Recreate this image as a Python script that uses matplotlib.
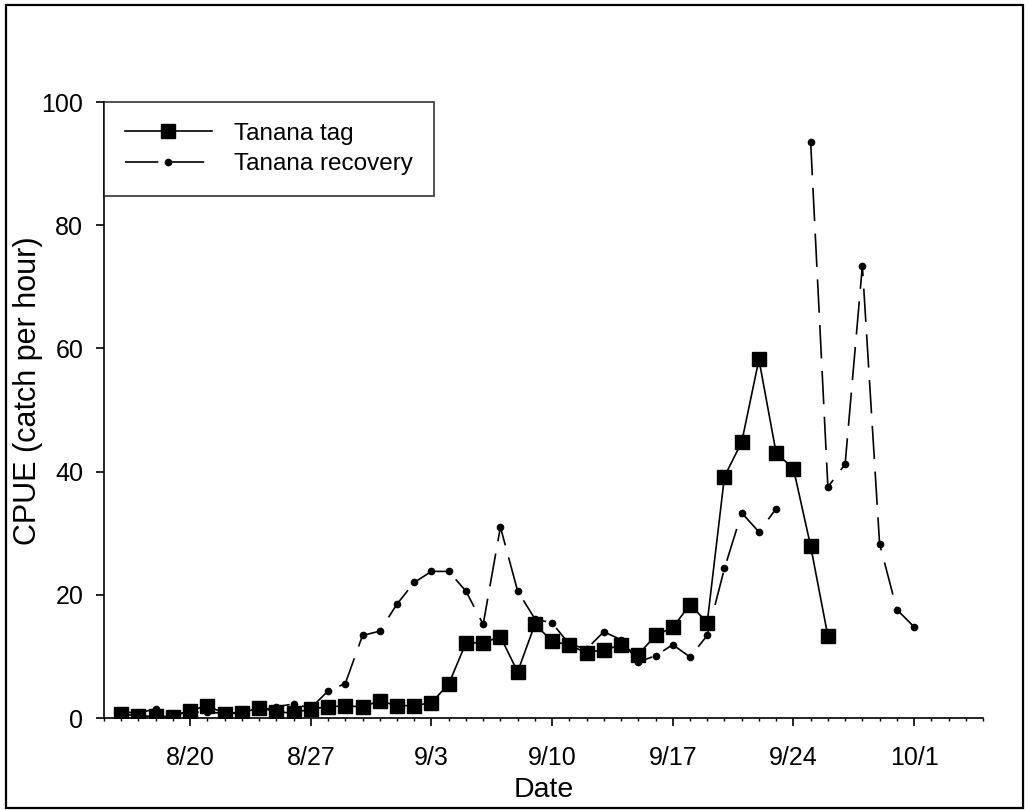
import matplotlib
matplotlib.use("Agg")
import matplotlib.pyplot as plt
from matplotlib.patches import Rectangle
import numpy as np

# ---- data ----
tag_dates = ["8/16", "8/17", "8/18", "8/19", "8/20", "8/21", "8/22", "8/23", "8/24", "8/25",
             "8/26", "8/27", "8/28", "8/29", "8/30", "8/31", "9/1", "9/2", "9/3", "9/4",
             "9/5", "9/6", "9/7", "9/8", "9/9", "9/10", "9/11", "9/12", "9/13", "9/14",
             "9/15", "9/16", "9/17", "9/18", "9/19", "9/20", "9/21", "9/22", "9/23", "9/24",
             "9/25", "9/26"]
tag_cpue = [0.7, 0.3, 0.3, 0.2, 1.2, 2.0, 0.7, 0.8, 1.7, 1.0,
            0.8, 1.5, 1.8, 2.0, 1.8, 2.8, 2.0, 2.0, 2.5, 5.5,
            12.2, 12.2, 13.2, 7.5, 15.2, 12.5, 11.8, 10.6, 11.1, 11.8,
            10.3, 13.4, 14.7, 18.4, 15.5, 39.2, 44.8, 58.2, 43.0, 40.5,
            27.9, 13.3]

rec_dates = ["8/16", "8/17", "8/18", "8/19", "8/20", "8/21", "8/22", "8/23", "8/24", "8/25",
             "8/26", "8/27", "8/28", "8/29", "8/30", "8/31", "9/1", "9/2", "9/3", "9/4",
             "9/5", "9/6", "9/7", "9/8", "9/9", "9/10", "9/11", "9/12", "9/13", "9/14",
             "9/15", "9/16", "9/17", "9/18", "9/19", "9/20", "9/21", "9/22", "9/23", "9/24",
             "9/25", "9/26", "9/27", "9/28", "9/29", "9/30", "10/1"]
rec_cpue = [1.0, 0.8, 1.5, 0.6, 1.0, 0.9, 0.8, 0.9, 1.2, 1.8,
            2.3, 1.6, 4.4, 5.6, 13.4, 14.1, 18.5, 22.0, 23.8, 23.8,
            20.6, 15.2, 31.0, 20.6, 16.1, 15.4, 12.0, 11.2, 14.0, 12.7,
            9.1, 10.1, 11.9, 9.9, 13.4, 24.3, 33.3, 30.2, 34.0, np.nan,
            93.5, 37.5, 41.2, 73.4, 28.3, 17.6, 14.8]

tick_labels = ["8/20", "8/27", "9/3", "9/10", "9/17", "9/24", "10/1"]
x_start, x_end = "8/15", "10/5"


def day_num(s):
    m, d = (int(v) for v in s.split("/"))
    return {8: 0, 9: 31, 10: 61}[m] + d


plt.rcParams['font.family'] = ['Liberation Sans', 'DejaVu Sans']

fig = plt.figure(figsize=(10.28, 8.10), dpi=100)
ax = fig.add_axes([104 / 1028, 92 / 810, 879 / 1028, 616 / 810])

# outer frame
fig.patches.append(Rectangle((6 / 1028, 2 / 810), 1017 / 1028, 803 / 810,
                             transform=fig.transFigure, fill=False,
                             edgecolor='black', linewidth=1.6))

xt = [day_num(s) for s in tag_dates]
xr = [day_num(s) for s in rec_dates]

ax.plot(xt, tag_cpue, color='black', lw=1.2, marker='s', ms=10.5,
        markerfacecolor='black', markeredgecolor='black', label='Tanana tag',
        zorder=3)
ax.plot(xr, rec_cpue, color='black', lw=1.2, marker='o', ms=4.5,
        dashes=(20, 7.5), label='Tanana recovery', zorder=4)

ax.set_xlim(day_num(x_start), day_num(x_end))
ax.set_ylim(0, 100)
ax.set_xticks([day_num(s) for s in tick_labels])
ax.set_xticklabels(tick_labels)
ax.set_xticks(np.arange(day_num(x_start), day_num(x_end) + 1), minor=True)
ax.set_yticks([0, 20, 40, 60, 80, 100])

for sp in ['top', 'right']:
    ax.spines[sp].set_visible(False)
for sp in ['left', 'bottom']:
    ax.spines[sp].set_linewidth(1.2)

ax.tick_params(axis='both', which='major', direction='out', length=6,
               width=1.2, labelsize=18)
ax.tick_params(axis='x', which='major', pad=14)
ax.tick_params(axis='y', which='major', pad=9)
ax.tick_params(axis='x', which='minor', direction='out', length=2, width=1)

ax.set_xlabel('Date', fontsize=20.5, labelpad=5)
ax.set_ylabel('CPUE (catch per hour)', fontsize=22)
ax.yaxis.set_label_coords(-0.069, 0.532)

leg = ax.legend(loc='upper left', bbox_to_anchor=(0.0, 1.0), borderaxespad=0,
                fontsize=17.5, frameon=True, fancybox=False, edgecolor='black',
                handlelength=3.6, handletextpad=0.9, labelspacing=0.36,
                borderpad=0.85, numpoints=1)
leg.get_frame().set_linewidth(1.2)

fig.savefig('out.png', dpi=100)
